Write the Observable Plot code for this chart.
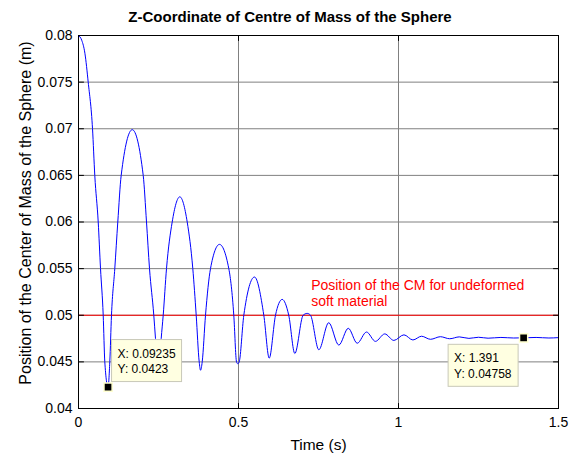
<!DOCTYPE html>
<html>
<head>
<meta charset="utf-8">
<script src="https://cdn.jsdelivr.net/npm/d3@7"></script>
<script src="https://cdn.jsdelivr.net/npm/@observablehq/plot@0.6"></script>
<style>
  html, body { margin: 0; padding: 0; background: #ffffff; }
  #chart svg { display: block; }
</style>
</head>
<body>
<div id="chart"></div>
<script>
// ---- data ----
const timeS = [0, 0.01, 0.02, 0.0303, 0.0438, 0.0509, 0.0616, 0.0688, 0.0772, 0.0822, 0.09235,
  0.0978, 0.1031, 0.1134, 0.1228, 0.1334, 0.168, 0.2022, 0.2125, 0.2219, 0.2353, 0.2406, 0.25,
  0.2584, 0.2647, 0.275, 0.2928, 0.3166, 0.3397, 0.3572, 0.3678, 0.3772, 0.3813, 0.3866, 0.3969,
  0.4125, 0.4406, 0.4697, 0.4853, 0.4938, 0.4978, 0.5022, 0.5166, 0.55, 0.5791, 0.596, 0.6156,
  0.6365, 0.657, 0.676, 0.702, 0.7146, 0.725, 0.751, 0.782, 0.8135, 0.843, 0.871, 0.900, 0.928,
  0.957, 0.9855, 1.017, 1.045, 1.072, 1.1, 1.131, 1.16, 1.19, 1.22, 1.25, 1.28, 1.32, 1.36,
  1.391, 1.43, 1.47, 1.5];
const zCoord = [0.08, 0.0795, 0.0781, 0.075, 0.070, 0.065, 0.060, 0.055, 0.050, 0.045, 0.0423,
  0.045, 0.050, 0.055, 0.060, 0.065, 0.0699, 0.065, 0.060, 0.055, 0.050, 0.0475, 0.0435,
  0.0475, 0.050, 0.055, 0.060, 0.0627, 0.060, 0.055, 0.050, 0.045, 0.0441, 0.045, 0.050,
  0.055, 0.0576, 0.055, 0.050, 0.045, 0.0448, 0.045, 0.050, 0.0541, 0.050, 0.0454, 0.050,
  0.0517, 0.050, 0.0459, 0.050, 0.0502, 0.050, 0.0463, 0.0492, 0.0468, 0.0486, 0.0470, 0.0482, 0.0472,
  0.0480, 0.0473, 0.0479, 0.04735, 0.04775, 0.04742, 0.0477, 0.04748, 0.04768, 0.04752, 0.04764, 0.04754, 0.04762, 0.04756,
  0.04758, 0.04762, 0.04756, 0.0476];
const cmLevel = [0.05];
const cmLabel = "Position of the CM for undeformed\nsoft material";
const tipT = [0.09235, 1.391];
const tipZ = [0.0423, 0.04758];
const tipXText = ["X: 0.09235", "X: 1.391"];
const tipYText = ["Y: 0.0423", "Y: 0.04758"];
const xTicks = [0, 0.5, 1, 1.5];
const yTicks = [0.04, 0.045, 0.05, 0.055, 0.06, 0.065, 0.07, 0.075, 0.08];
const titleText = "Z-Coordinate of Centre of Mass of the Sphere";
const xLabel = "Time (s)";
const yLabel = "Position of the Center of Mass of the Sphere (m)";

// ---- build tables ----
const series = timeS.map((t, i) => ({t, z: zCoord[i]}));
const tips = tipT.map((t, i) => ({t, z: tipZ[i], lx: tipXText[i], ly: tipYText[i]}));

const FONT = "'Liberation Sans', Arial, sans-serif";
const fmt = d => String(+d.toFixed(4));
const tickShape = {draw(context, l) { context.moveTo(0, 0); context.lineTo(0, -l); }};
const tickOpts = {length: 5, anchor: "start", shape: tickShape, stroke: "black", strokeWidth: 1};

// box offsets relative to the data point (pixels): [boxDx, boxDy, textDx, line1Dy, line2Dy]
const tipLayout = [
  [4, -47, 10, -28.5, -13.8],
  [-75, 7, -69, 24.4, 40.4]
];

function tipMark(index, scales) {
  const g = d3.create("svg:g").attr("font-family", FONT).attr("font-size", 12).attr("text-anchor", "start");
  tips.forEach((d, i) => {
    const px = scales.x(d.t), py = scales.y(d.z);
    const [bdx, bdy, tdx, l1, l2] = tipLayout[i];
    g.append("rect")
      .attr("x", px + bdx).attr("y", py + bdy)
      .attr("width", 70).attr("height", 42)
      .attr("fill", "#ffffe1").attr("stroke", "#c9c9b8").attr("stroke-width", 1);
    g.append("text").attr("x", px + tdx).attr("y", py + l1).attr("text-anchor", "start").attr("fill", "black").text(d.lx);
    g.append("text").attr("x", px + tdx).attr("y", py + l2).attr("text-anchor", "start").attr("fill", "black").text(d.ly);
  });
  return g.node();
}

const chart = Plot.plot({
  width: 571,
  height: 457,
  marginLeft: 78,
  marginRight: 13,
  marginTop: 35,
  marginBottom: 49,
  x: {domain: [0, 1.5]},
  y: {domain: [0.04, 0.08]},
  style: {fontFamily: FONT, fontSize: "14px", background: "white", color: "black", overflow: "visible"},
  marks: [
    Plot.gridX(xTicks.slice(1, -1), {stroke: "#808080", strokeOpacity: 1, strokeWidth: 1}),
    Plot.gridY(yTicks.slice(1, -1), {stroke: "#808080", strokeOpacity: 1, strokeWidth: 1}),
    Plot.ruleY(cmLevel, {stroke: "#ff0000", strokeWidth: 1}),
    Plot.line(series, {x: "t", y: "z", stroke: "#0000ff", strokeWidth: 1, curve: "monotone-x"}),
    Plot.text([cmLabel], {x: 0.727, y: cmLevel[0], dy: -9, text: d => d, textAnchor: "start",
      lineAnchor: "bottom", lineHeight: 1.19, fill: "#ff0000", fontSize: 14}),
    tipMark,
    Plot.dot(tips, {x: "t", y: "z", symbol: "square", r: 4.6, fill: "black", stroke: "#ffffd0", strokeWidth: 1.5}),
    Plot.frame({stroke: "black", strokeWidth: 1}),
    Plot.vector(yTicks, {x: 0, y: d => d, rotate: 90, ...tickOpts}),
    Plot.vector(yTicks, {x: 1.5, y: d => d, rotate: -90, ...tickOpts}),
    Plot.vector(xTicks, {x: d => d, y: 0.04, rotate: 0, ...tickOpts}),
    Plot.vector(xTicks, {x: d => d, y: 0.08, rotate: 180, ...tickOpts}),
    Plot.axisX(xTicks, {anchor: "bottom", tickSize: 0, tickPadding: 9, tickFormat: fmt, label: null, fontSize: 14}),
    Plot.axisY(yTicks, {anchor: "left", tickSize: 0, tickPadding: 6, tickFormat: fmt, label: null, fontSize: 14}),
    Plot.text([titleText], {frameAnchor: "top", dx: -28.5, dy: -14, lineAnchor: "bottom", textAnchor: "middle", text: d => d,
      fontWeight: "bold", fontSize: 15, fill: "black"}),
    Plot.text([xLabel], {frameAnchor: "bottom", dy: 41, lineAnchor: "bottom", textAnchor: "middle", text: d => d, fontSize: 15.5, fill: "black"}),
    Plot.text([yLabel], {frameAnchor: "left", dx: -53, dy: -9, rotate: -90, lineAnchor: "middle", textAnchor: "middle", text: d => d,
      fontSize: 16, fill: "black"})
  ]
});

document.getElementById("chart").appendChild(chart);
</script>
</body>
</html>
